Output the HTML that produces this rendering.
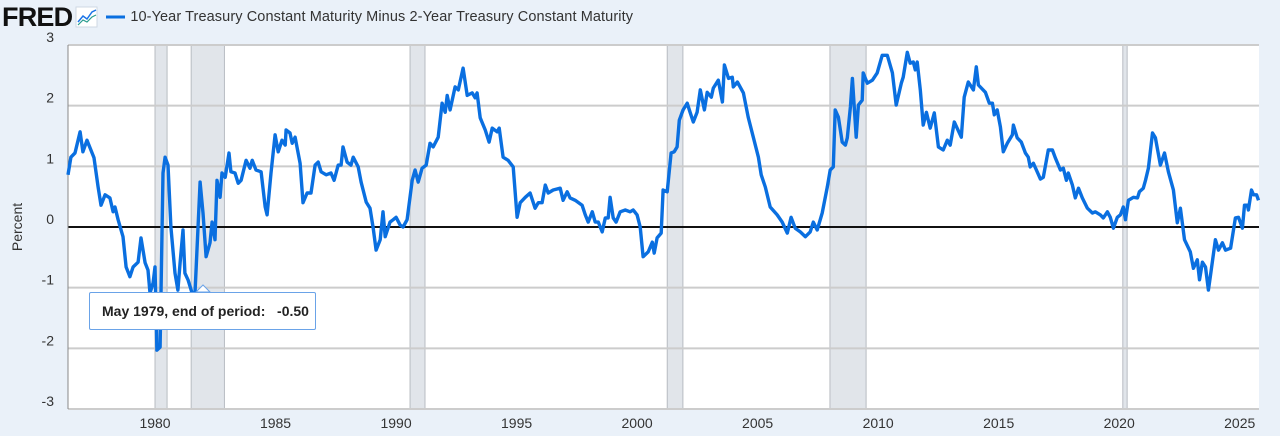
<!DOCTYPE html>
<html><head><meta charset="utf-8">
<style>
body{margin:0;width:1280px;height:436px;background:#eaf1f9;font-family:"Liberation Sans",sans-serif;overflow:hidden;position:relative}
#hdr{position:absolute;left:2px;top:3px;height:28px;display:flex;align-items:center}
#logo{font-weight:bold;font-size:27px;letter-spacing:-0.8px;color:#111}
#tt{position:absolute;left:89px;top:292px;width:227px;height:38px;background:#fff;border:1px solid #6aa3e8;border-radius:2px;font-weight:bold;font-size:14px;color:#222;box-sizing:border-box;padding:10px 0 0 12px}
</style></head><body>
<div id="hdr">
<span id="logo">FRED</span>
<svg width="24" height="24" style="margin-left:3px"><rect x="1" y="2" width="21" height="20" fill="#fff" stroke="#cfd8e3"/><polyline points="3,17 8,11 12,14 17,7 21,5" fill="none" stroke="#1a73e8" stroke-width="1.5"/><polyline points="3,20 8,15 12,17 17,12 21,10" fill="none" stroke="#2a9d8f" stroke-width="1.2"/></svg>
<svg width="22" height="10" style="margin-left:6px"><line x1="1" y1="5" x2="20" y2="5" stroke="#0a6fe0" stroke-width="3"/></svg>
<span style="font-size:14.5px;color:#333;margin-left:3px;letter-spacing:0.1px">10-Year Treasury Constant Maturity Minus 2-Year Treasury Constant Maturity</span>
</div>
<svg id="chart" width="1280" height="436" style="position:absolute;left:0;top:0"></svg>
<div id="tt">May 1979, end of period:&nbsp;&nbsp;&nbsp;-0.50</div>
<script>
const dates=[1976.39,1976.51,1976.68,1976.89,1977.01,1977.18,1977.47,1977.64,1977.76,1977.93,1978.13,1978.26,1978.34,1978.47,1978.67,1978.80,1978.96,1979.09,1979.30,1979.42,1979.59,1979.71,1979.79,1979.92,1980.00,1980.08,1980.21,1980.33,1980.42,1980.54,1980.66,1980.83,1980.95,1981.04,1981.16,1981.24,1981.37,1981.54,1981.66,1981.87,1981.99,1982.12,1982.28,1982.37,1982.49,1982.57,1982.70,1982.78,1982.91,1983.07,1983.15,1983.32,1983.45,1983.57,1983.78,1983.94,1984.03,1984.19,1984.40,1984.57,1984.65,1984.81,1984.98,1985.11,1985.27,1985.40,1985.44,1985.60,1985.69,1985.81,1986.02,1986.14,1986.31,1986.47,1986.64,1986.77,1986.89,1987.10,1987.30,1987.43,1987.60,1987.72,1987.80,1987.97,1988.13,1988.22,1988.43,1988.55,1988.76,1988.92,1989.05,1989.17,1989.34,1989.46,1989.55,1989.75,1989.88,1990.00,1990.17,
1990.29,1990.46,1990.67,1990.79,1990.92,1991.08,1991.25,1991.41,1991.54,1991.75,1991.91,1992.04,1992.12,1992.24,1992.45,1992.58,1992.78,1992.95,1993.16,1993.28,1993.36,1993.49,1993.70,1993.86,1993.99,1994.19,1994.28,1994.44,1994.65,1994.86,1995.02,1995.15,1995.36,1995.56,1995.77,1995.90,1996.06,1996.19,1996.31,1996.52,1996.81,1996.93,1997.10,1997.22,1997.43,1997.72,1997.85,1997.97,1998.14,1998.26,1998.39,1998.55,1998.68,1998.80,1998.88,1999.01,1999.13,1999.30,1999.51,1999.71,1999.84,2000.00,2000.13,2000.25,2000.46,2000.63,2000.71,2000.83,2001.00,2001.08,2001.25,2001.41,2001.54,2001.66,2001.75,2001.91,2002.08,
2002.20,2002.33,2002.49,2002.62,2002.79,2002.91,2003.08,2003.16,2003.37,2003.54,2003.62,2003.79,2003.95,2003.99,2004.16,2004.41,2004.61,2004.82,2005.03,2005.15,2005.32,2005.52,2005.81,2006.02,2006.23,2006.39,2006.56,2006.77,2006.98,2007.18,2007.31,2007.47,2007.68,2007.89,2008.01,2008.14,2008.22,2008.35,2008.51,2008.64,2008.72,2008.85,2008.93,2009.09,2009.18,2009.34,2009.38,2009.55,2009.76,2009.96,2010.17,2010.38,2010.59,2010.75,2010.96,2011.04,2011.21,2011.33,2011.46,2011.54,2011.62,2011.75,2011.87,2012.00,2012.16,2012.33,2012.50,2012.70,2012.87,2012.99,2013.16,2013.45,2013.57,2013.74,2013.95,2014.07,2014.16,2014.45,2014.61,
2014.74,2014.82,2014.94,2015.07,2015.19,2015.36,2015.57,2015.61,2015.77,2015.94,2016.11,2016.23,2016.31,2016.44,2016.60,2016.73,2016.85,2017.06,2017.23,2017.35,2017.56,2017.68,2017.81,2017.89,2018.06,2018.18,2018.31,2018.47,2018.68,2018.89,2019.01,2019.22,2019.34,2019.51,2019.63,2019.76,2019.92,2020.05,2020.17,2020.26,2020.38,2020.59,2020.76,2020.84,2021.00,2021.09,2021.21,2021.38,2021.50,2021.71,2021.88,2022.04,2022.25,2022.41,2022.54,2022.71,2022.95,2023.08,2023.24,2023.33,2023.45,2023.58,2023.70,2023.78,2023.99,2024.12,2024.28,2024.41,2024.62,2024.82,2024.95,2025.11,2025.20,2025.32,2025.36,2025.49,2025.57,2025.70,2025.78];
const spread=[0.86,1.15,1.22,1.57,1.24,1.43,1.14,0.66,0.36,0.53,0.48,0.25,0.33,0.12,-0.16,-0.66,-0.82,-0.66,-0.58,-0.18,-0.59,-0.71,-1.09,-0.92,-0.66,-2.03,-1.98,0.89,1.15,1.02,0.0,-0.76,-1.04,-0.59,-0.05,-0.76,-0.87,-1.09,-1.09,0.74,0.23,-0.49,-0.26,0.08,-0.21,0.77,0.49,0.89,0.82,1.22,0.91,0.89,0.72,0.77,1.10,0.97,1.10,0.94,0.91,0.33,0.20,0.89,1.52,1.24,1.43,1.35,1.60,1.55,1.38,1.48,1.05,0.40,0.56,0.56,1.02,1.07,0.91,0.86,0.89,0.77,1.02,1.02,1.32,1.07,1.02,1.15,0.99,0.74,0.41,0.31,-0.02,-0.38,-0.21,0.25,-0.16,0.08,0.12,0.16,0.03,
0.00,0.12,0.77,0.94,0.74,0.97,1.02,1.38,1.32,1.48,2.04,1.89,2.17,1.93,2.31,2.26,2.62,2.17,2.21,2.13,2.21,1.80,1.60,1.40,1.63,1.57,1.63,1.15,1.10,0.99,0.16,0.40,0.49,0.56,0.31,0.40,0.40,0.69,0.56,0.61,0.64,0.44,0.58,0.48,0.44,0.36,0.20,0.08,0.25,0.08,0.08,-0.08,0.15,0.15,0.49,0.15,0.08,0.25,0.28,0.25,0.28,0.20,0.00,-0.49,-0.41,-0.25,-0.43,-0.18,-0.10,0.61,0.58,1.22,1.24,1.32,1.76,1.93,2.04,
1.89,1.73,1.89,2.26,1.93,2.22,2.14,2.29,2.42,2.06,2.67,2.45,2.47,2.31,2.39,2.21,1.81,1.48,1.15,0.86,0.66,0.33,0.20,0.08,-0.10,0.16,-0.02,-0.08,-0.16,-0.08,0.08,-0.05,0.23,0.66,0.94,0.99,1.93,1.81,1.40,1.35,1.47,1.98,2.45,1.48,2.01,2.09,2.54,2.37,2.42,2.54,2.83,2.83,2.54,2.01,2.37,2.47,2.88,2.70,2.72,2.59,2.72,2.26,1.68,1.89,1.63,1.88,1.32,1.27,1.43,1.35,1.73,1.48,2.14,2.39,2.26,2.64,2.34,2.22,2.04,
2.04,1.85,1.93,1.65,1.24,1.38,1.52,1.68,1.47,1.40,1.22,1.15,0.99,1.05,0.91,0.79,0.82,1.27,1.27,1.14,0.94,0.97,0.77,0.89,0.69,0.48,0.64,0.48,0.31,0.23,0.25,0.20,0.15,0.25,0.16,-0.02,0.16,0.20,0.33,0.12,0.44,0.49,0.48,0.58,0.64,0.77,0.97,1.55,1.47,1.02,1.22,0.91,0.61,0.07,0.31,-0.21,-0.41,-0.68,-0.54,-0.87,-0.58,-0.66,-1.04,-0.82,-0.21,-0.38,-0.26,-0.38,-0.35,0.15,0.16,-0.02,0.36,0.36,0.28,0.61,0.53,0.53,0.44];
const recStart=[1980.0,1981.5,1990.58,2001.25,2008.0,2020.15];
const recEnd=[1980.5,1982.88,1991.2,2001.9,2009.5,2020.33];
const yTicks=[3,2,1,0,-1,-2,-3];
const xTicks=[1980,1985,1990,1995,2000,2005,2010,2015,2020,2025];

const L=68,R=1259,T=45,B=409;
const xMin=1976.39,xMax=2025.8,yMin=-3,yMax=3;
const X=v=>L+(v-xMin)/(xMax-xMin)*(R-L);
const Y=v=>B-(v-yMin)/(yMax-yMin)*(B-T);
const svg=document.getElementById('chart');const NS='http://www.w3.org/2000/svg';
function mk(t,a,p){const e=document.createElementNS(NS,t);for(const k in a)e.setAttribute(k,a[k]);(p||svg).appendChild(e);return e;}
const bg=mk('rect',{x:L,y:T,width:R-L,height:B-T,fill:'#fff'});


for(let i=0;i<recStart.length;i++){
 const r=mk('rect',{x:X(recStart[i]),y:T,width:X(recEnd[i])-X(recStart[i]),height:B-T,fill:'#e1e5ea',stroke:'#b8bcc2','stroke-width':1});
 
 
}
yTicks.forEach(v=>{
 const g=mk('line',{x1:L,x2:R,y1:Y(v),y2:Y(v),stroke:v===0?'#111':'#cccccc','stroke-width':2});
 
 
 const t=mk('text',{x:54,y:Y(v)-3,'text-anchor':'end','font-size':14,fill:'#333','font-family':'Liberation Sans, sans-serif'});
 t.textContent=v;
 
 
});
mk('line',{x1:L,x2:L,y1:T,y2:B,stroke:'#888','stroke-width':1});
xTicks.forEach(v=>{
 const t=mk('text',{x:X(v),y:428,'text-anchor':'middle','font-size':14,fill:'#333','font-family':'Liberation Sans, sans-serif'});
 t.textContent=v;
 
 
});
const yt=mk('text',{x:22,y:227,'text-anchor':'middle','font-size':14,fill:'#333',transform:'rotate(-90 22 227)','font-family':'Liberation Sans, sans-serif'});
yt.textContent='Percent';


let d='';dates.forEach((t,i)=>{d+=(i?'L':'M')+X(t).toFixed(1)+','+Y(spread[i]).toFixed(1);});
const line=mk('path',{d:d,fill:'none',stroke:'#0a6fe0','stroke-width':3.4,'stroke-linejoin':'round'});


const tip=mk('polygon',{points:'196,292 203,285 210,292',fill:'#fff',stroke:'#6aa3e8'});


</script>
</body></html>
